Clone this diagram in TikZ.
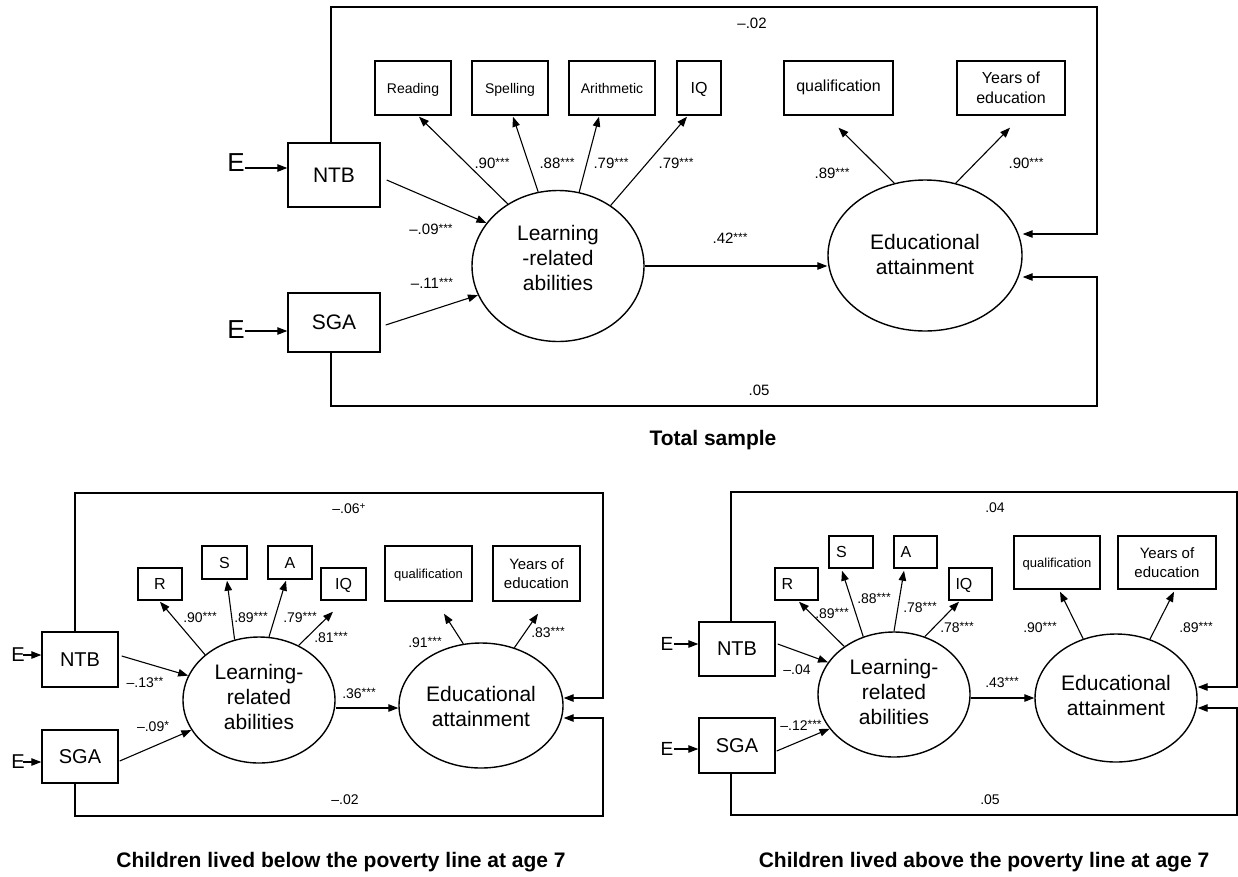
\documentclass[tikz,border=0pt]{standalone}
\usepackage{fontspec}
\setmainfont{Liberation Sans}
\usetikzlibrary{arrows.meta,shapes.geometric}
\newcommand\sig[1]{\raisebox{2pt}{\fontsize{12}{12}\selectfont #1}}
\newcommand\fs[1]{\fontsize{#1}{#1}\selectfont}
\tikzset{
  wh/.style 2 args={minimum width=#1pt, minimum height=#2pt},
  box/.style={draw, line width=1.4pt, inner sep=0pt, align=center},
  one/.style={text height=#1pt, text depth=0pt},
  lat/.style={draw, ellipse, line width=1.4pt, inner sep=0pt},
  lattext/.style={align=center, font=\fontsize{21}{25}\selectfont, inner sep=0pt},
  arr/.style={line width=1.1pt, -{Triangle[length=10pt,width=7.5pt]}},
  frame/.style={arr, line width=1.2pt},
  lbl/.style={font=\fontsize{14}{16}\selectfont, inner sep=0pt},
  lblt/.style={font=\fontsize{15}{17}\selectfont, inner sep=0pt},
  ttl/.style={font=\bfseries\fontsize{21}{25}\selectfont, inner sep=0pt},
}
\begin{document}
\begin{tikzpicture}[x=1pt,y=-1pt]
\useasboundingbox (0,0) rectangle (1238,876);
% ================= TOP: total sample =================
\node[box, wh={92}{64}, font=\fs{21}] (ntb) at (334,175) {NTB};
\node[box, wh={92}{59}, font=\fs{21}] (sga) at (334,322.5) {SGA};
\node[font=\fs{26}, inner sep=0pt] (e1) at (236,163) {E};
\node[font=\fs{26}, inner sep=0pt] (e2) at (236,330) {E};
\draw[arr] ([yshift=-5pt]e1.east) -- ([yshift=-5pt]e1.east -| ntb.west);
\draw[arr] ([yshift=-1pt]e2.east) -- ([yshift=-1pt]e2.east -| sga.west);
\node[box, one=10, wh={76}{54}, font=\fs{14}] (rd) at (413,88) {Reading};
\node[box, one=10, wh={76}{54}, font=\fs{14}] (sp) at (510,88) {Spelling};
\node[box, one=10, wh={86}{54}, font=\fs{14}] (ar) at (612,88) {Arithmetic};
\node[box, one=11.5, wh={44}{54}, font=\fs{16}] (iq) at (699,88) {IQ};
\node[box, wh={109}{54}, font=\fs{16}] (qu) at (838.5,88) {\raisebox{5pt}{qualification}};
\node[box, wh={108}{54}, font=\fontsize{16}{20}\selectfont] (ye) at (1011,88) {Years of\\education};
\node[lat, minimum width=172pt, minimum height=151pt] (L) at (558,266) {};
\node[lattext] (Lt) at (558,258) {Learning\\-related\\abilities};
\node[lat, minimum width=194pt, minimum height=151pt] (Ed) at (925,255.5) {};
\node[lattext] (Et) at (925,254) {Educational\\attainment};
\draw[arr] (L.129.2) -- ([xshift=6pt,yshift=-1pt]rd.south);
\draw[arr] (L.105.6) -- ([xshift=3pt,yshift=-1pt]sp.south);
\draw[arr] (L.74.4) -- ([xshift=-13pt,yshift=-1pt]ar.south);
\draw[arr] (L.49.8) -- ([xshift=-12pt,yshift=-1pt]iq.south);
\draw[arr] ([xshift=6pt,yshift=-5pt]ntb.east) -- (L.149.9);
\draw[arr] ([xshift=5pt,yshift=-2.5pt]sga.east) -- (L.200.8);
\draw[arr] (L.east) -- (L.east -| Ed.west);
\draw[arr] (Ed.113.6) -- ([yshift=-12pt]qu.south);
\draw[arr] (Ed.67.7) -- ([xshift=-1pt,yshift=-12pt]ye.south);
\coordinate (t1) at (1097,7);
\coordinate (t2) at (1097,406);
\draw[frame] ([xshift=-3pt]ntb.north) |- (t1) |- ([yshift=21.5pt]Ed.east);
\draw[frame] ([xshift=-3pt]sga.south) |- (t2) |- ([yshift=-21.5pt]Ed.east);
\node[lblt] (a1) at (492,163) {.90\sig{***}};
\node[lblt] (a2) at (557,163) {.88\sig{***}};
\node[lblt] (a3) at (611,163) {.79\sig{***}};
\node[lblt] (a4) at (676,163) {.79\sig{***}};
\node[lblt] (a5) at (431,229) {–.09\sig{***}};
\node[lblt] (a6) at (432,283) {–.11\sig{***}};
\node[lblt] (a7) at (730,238) {.42\sig{***}};
\node[lblt] (a8) at (832,173) {.89\sig{***}};
\node[lblt] (a9) at (1026,163) {.90\sig{***}};
\node[lblt] (a10) at (752,23) {–.02};
\node[lblt] (a11) at (759,390) {.05};
\node[ttl] (T1) at (713,440) {Total sample};
% ================= BOTTOM LEFT: below poverty line =================
\node[box, wh={76}{55}, font=\fs{20}] (ntbB) at (80,659.5) {NTB};
\node[box, wh={76}{53}, font=\fs{20}] (sgaB) at (80,756.5) {SGA};
\node[font=\fs{20}, inner sep=0pt] (eB1) at (18,655) {E};
\node[font=\fs{20}, inner sep=0pt] (eB2) at (18,762) {E};
\draw[arr] ([xshift=-2pt]eB1.east) -- (eB1.east -| ntbB.west);
\draw[arr] ([xshift=-2pt]eB2.east) -- (eB2.east -| sgaB.west);
\node[box, one=11.5, wh={44}{32}, font=\fs{16}] (rB) at (160,584) {R};
\node[box, one=11.5, wh={45}{33}, font=\fs{16}] (sB) at (224.5,562.5) {S};
\node[box, one=11.5, wh={44}{33}, font=\fs{16}] (aB) at (290,562.5) {A};
\node[box, one=11.5, wh={45}{32}, font=\fs{16}] (iqB) at (343.5,584) {IQ};
\node[box, one=9.3, wh={87}{55}, font=\fs{13}] (quB) at (428.5,573.5) {qualification};
\node[box, wh={87}{55}, font=\fontsize{15}{19}\selectfont] (yeB) at (536.5,573.5) {Years of\\education};
\node[lat, minimum width=152pt, minimum height=126pt] (LB) at (259,700) {};
\node[lattext] (LBt) at (259,697) {Learning-\\related\\abilities};
\node[lat, minimum width=164pt, minimum height=125pt] (EdB) at (481,705.5) {};
\node[lattext] (EBt) at (481,706) {Educational\\attainment};
\draw[arr] (LB.140.5) -- ([yshift=-1pt]rB.south);
\draw[arr] (LB.112) -- ([xshift=2.5pt,yshift=-1pt]sB.south);
\draw[arr] (LB.81.5) -- ([xshift=-4pt,yshift=-1pt]aB.south);
\draw[arr] (LB.54.3) -- ([xshift=-10.5pt,yshift=-11pt]iqB.south);
\draw[arr] ([xshift=3pt,yshift=3.5pt]ntbB.east) -- (LB.161.8);
\draw[arr] ([xshift=1pt,yshift=-4.5pt]sgaB.east) -- (LB.204.8);
\draw[arr] ([yshift=-8pt]LB.east) -- ([yshift=-8pt]LB.east -| EdB.west);
\draw[arr] (EdB.106.9) -- ([xshift=15.5pt,yshift=-12pt]quB.south);
\draw[arr] (EdB.60.8) -- ([xshift=1.5pt,yshift=-12pt]yeB.south);
\coordinate (bt1) at (603,493);
\coordinate (bt2) at (603,816);
\draw[frame] ([xshift=-5pt]ntbB.north) |- (bt1) |- ([yshift=7.5pt]EdB.east);
\draw[frame] ([xshift=-5pt]sgaB.south) |- (bt2) |- ([yshift=-12.5pt]EdB.east);
\node[lbl] (b1) at (200,617) {.90\sig{***}};
\node[lbl] (b2) at (251,617) {.89\sig{***}};
\node[lbl] (b3) at (300,617) {.79\sig{***}};
\node[lbl] (b4) at (331,637) {.81\sig{***}};
\node[lbl] (b5) at (145,682) {–.13\sig{**}};
\node[lbl] (b6) at (153,726) {–.09\sig{*}};
\node[lbl] (b7) at (359,693) {.36\sig{***}};
\node[lbl] (b8) at (425,642) {.91\sig{***}};
\node[lbl] (b9) at (548,632) {.83\sig{***}};
\node[lbl] (b10) at (349,509) {–.06\raisebox{4pt}{\fs{10}+}};
\node[lbl] (b11) at (345,800) {–.02};
\node[ttl] (T2) at (341,862) {Children lived below the poverty line at age 7};
% ================= BOTTOM RIGHT: above poverty line =================
\node[box, wh={76}{54}, font=\fs{20}] (ntbR) at (737,649) {NTB};
\node[box, wh={76}{55}, font=\fs{20}] (sgaR) at (737,745.5) {SGA};
\node[font=\fs{19}, inner sep=0pt] (eR1) at (667,644) {E};
\node[font=\fs{19}, inner sep=0pt] (eR2) at (667,749) {E};
\draw[arr] (eR1.east) -- (eR1.east -| ntbR.west);
\draw[arr] (eR2.east) -- (eR2.east -| sgaR.west);
\node[box, one=11.5, wh={43}{32}, font=\fs{16}] (rR) at (796.5,584) {\makebox[30pt][l]{R}};
\node[box, one=11.5, wh={44}{32}, font=\fs{16}] (sR) at (851,552) {\makebox[30pt][l]{S}};
\node[box, one=11.5, wh={43}{32}, font=\fs{16}] (aR) at (915.5,552) {\makebox[30pt][l]{A}};
\node[box, one=11.5, wh={43}{32}, font=\fs{16}] (iqR) at (970.5,584) {\makebox[30pt][l]{IQ}};
\node[box, one=9.3, wh={86}{53}, font=\fs{13}] (quR) at (1057,562.5) {qualification};
\node[box, wh={98}{53}, font=\fontsize{15}{19}\selectfont] (yeR) at (1167,562.5) {Years of\\education};
\node[lat, minimum width=152pt, minimum height=125pt] (LR) at (894,694.5) {};
\node[lattext] (LRt) at (894,691.5) {Learning-\\related\\abilities};
\node[lat, minimum width=162pt, minimum height=128pt] (EdR) at (1116,698) {};
\node[lattext] (ERt) at (1116,695.5) {Educational\\attainment};
\draw[arr] (LR.136.4) -- ([xshift=2.5pt,yshift=-1pt]rR.south);
\draw[arr] (LR.118.2) -- ([xshift=-9pt,yshift=-2pt]sR.south);
\draw[arr] (LR.90) -- ([xshift=-11.5pt,yshift=-2pt]aR.south);
\draw[arr] (LR.62.5) -- ([xshift=-11.5pt,yshift=-1pt]iqR.south);
\draw[arr] ([xshift=2pt,yshift=5pt]ntbR.east) -- (LR.154.5);
\draw[arr] ([xshift=1pt,yshift=-5.5pt]sgaR.east) -- (LR.208.3);
\draw[arr] ([yshift=-3.5pt]LR.east) -- ([yshift=-3.5pt]LR.east -| EdR.west);
\draw[arr] (EdR.119.7) -- ([xshift=3pt,yshift=-2pt]quR.south);
\draw[arr] (EdR.60.3) -- ([xshift=7pt,yshift=-2pt]yeR.south);
\coordinate (rt1) at (1237,492);
\coordinate (rt2) at (1237,815);
\draw[frame] ([xshift=-6pt]ntbR.north) |- (rt1) |- ([yshift=11pt]EdR.east);
\draw[frame] ([xshift=-6pt]sgaR.south) |- (rt2) |- ([yshift=-10pt]EdR.east);
\node[lbl] (c1) at (832,613) {.89\sig{***}};
\node[lbl] (c2) at (874,598) {.88\sig{***}};
\node[lbl] (c3) at (920,607) {.78\sig{***}};
\node[lbl] (c4) at (957,627) {.78\sig{***}};
\node[lbl] (c5) at (797,670) {–.04};
\node[lbl] (c6) at (801,725) {–.12\sig{***}};
\node[lbl] (c7) at (1002,682) {.43\sig{***}};
\node[lbl] (c8) at (1040,627) {.90\sig{***}};
\node[lbl] (c9) at (1196,627) {.89\sig{***}};
\node[lbl] (c10) at (995,508) {.04};
\node[lbl] (c11) at (990,800) {.05};
\node[ttl] (T3) at (984,862) {Children lived above the poverty line at age 7};
\end{tikzpicture}
\end{document}
